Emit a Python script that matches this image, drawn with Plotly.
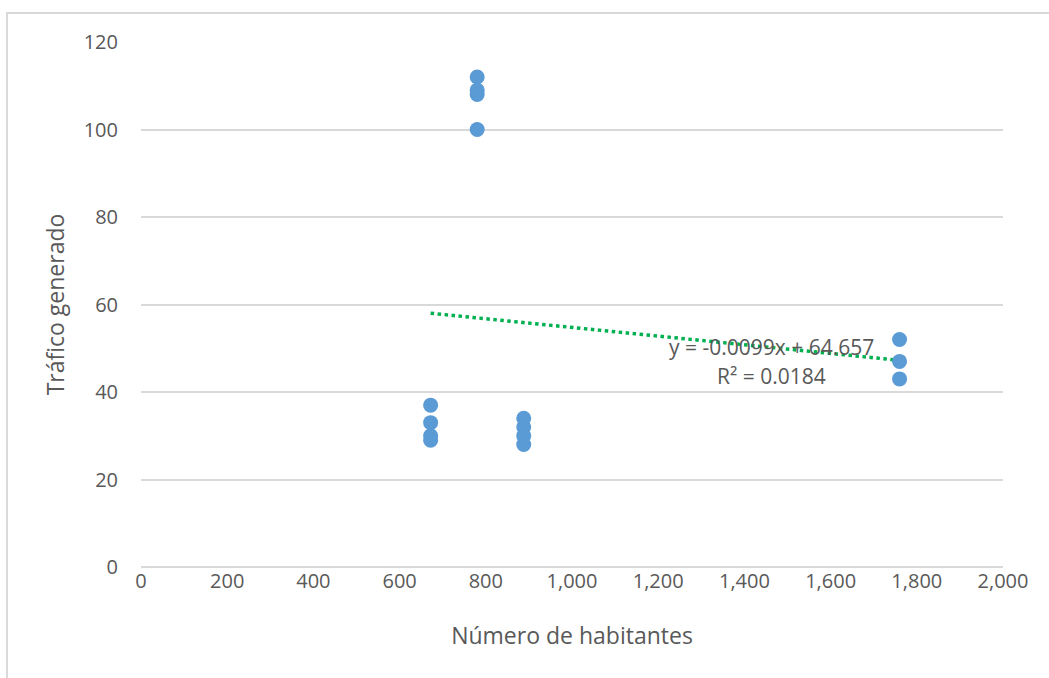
import plotly.graph_objects as go

# Observations: population vs generated traffic
habitantes = [672, 672, 672, 672,
              780, 780, 780, 780,
              888, 888, 888, 888,
              1760, 1760, 1760]
trafico = [37, 33, 30, 29,
           112, 109, 108, 100,
           34, 32, 30, 28,
           52, 47, 43]

# Linear trend as reported on the chart
pendiente = -0.0099
intercepto = 64.657
r2 = 0.0184
x_tend = [min(habitantes), max(habitantes)]
y_tend = [pendiente * x + intercepto for x in x_tend]

x_ticks = list(range(0, 2001, 200))
x_tick_labels = [f"{v:,}" for v in x_ticks]
y_ticks = list(range(0, 121, 20))

font_family = "Open Sans, Noto Sans, sans-serif"
text_color = "#595959"
grid_color = "#d9d9d9"

fig = go.Figure()

fig.add_trace(go.Scatter(
    x=x_tend, y=y_tend, mode="lines",
    line=dict(color="#00b050", width=3.5, dash="dot"),
    hoverinfo="skip", showlegend=False,
))

fig.add_trace(go.Scatter(
    x=habitantes, y=trafico, mode="markers",
    marker=dict(color="#5b9bd5", size=15, line=dict(width=0)),
    showlegend=False,
))

fig.add_annotation(
    x=1462, y=50.3, xref="x", yref="y",
    text=f"y = {pendiente}x + {intercepto}",
    showarrow=False, font=dict(family=font_family, size=21, color=text_color),
)
fig.add_annotation(
    x=1462, y=43.7, xref="x", yref="y",
    text=f"R² = {r2}",
    showarrow=False, font=dict(family=font_family, size=21, color=text_color),
)

# Chart frame
fig.add_shape(
    type="rect", xref="paper", yref="paper",
    x0=-0.1555, x1=1.06, y0=-0.23, y1=1.0552,
    line=dict(color=grid_color, width=2), fillcolor="rgba(0,0,0,0)",
    layer="below",
)

fig.update_layout(
    width=1049, height=678,
    margin=dict(l=141, r=46, t=42, b=111),
    paper_bgcolor="white", plot_bgcolor="white",
    font=dict(family=font_family, color=text_color, size=19),
    xaxis=dict(
        range=[0, 2000], tickvals=x_ticks, ticktext=x_tick_labels,
        showgrid=False, zeroline=False, showline=False,
        ticks="", ticklen=0,
        tickfont=dict(size=20, color=text_color),
        title=dict(text="Número de habitantes",
                   font=dict(size=23, color=text_color), standoff=34),
    ),
    yaxis=dict(
        range=[0, 120], tickvals=y_ticks,
        showgrid=True, gridcolor=grid_color, gridwidth=2,
        zeroline=True, zerolinecolor=grid_color, zerolinewidth=2,
        showline=False, ticks="",
        tickfont=dict(size=20, color=text_color),
        ticklabelstandoff=22,
        title=dict(text="Tráfico generado",
                   font=dict(size=23, color=text_color), standoff=12),
    ),
)

fig.write_html("out.html")
